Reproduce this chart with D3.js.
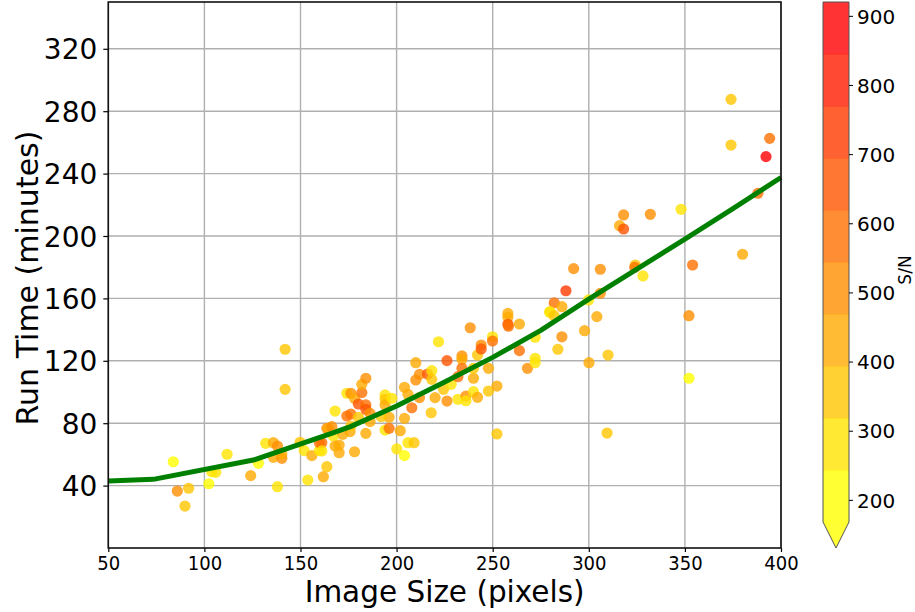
<!DOCTYPE html>
<html><head><meta charset="utf-8">
<script src="https://cdn.jsdelivr.net/npm/d3@7"></script>
<style>body{margin:0;background:#fff} text{font-family:"DejaVu Sans",sans-serif;fill:#000}</style>
</head><body><svg id="c" width="915" height="612"></svg>
<script>
// ---- data ----
const imageSize = [142.0,142.0,83.8,85.9,91.8,89.9,102.3,103.8,105.9,111.8,124.1,128.1,131.9,135.9,138.0,135.9,140.3,140.3,138.0,149.8,151.9,155.9,153.8,159.8,159.8,161.9,163.7,163.7,
161.1,161.1,164.5,166.3,167.1,168.0,168.0,170.1,170.1,172.0,175.8,176.2,178.1,174.1,176.2,180.1,174.1,176.2,178.1,180.1,181.9,181.9,184.0,184.0,184.0,186.2,186.2,184.0,
194.0,194.0,194.0,197.5,194.0,196.1,196.1,192.0,201.9,200.1,204.1,205.9,209.1,204.1,204.1,205.9,207.9,210.0,211.9,210.0,211.9,216.1,218.3,218.3,218.0,220.0,221.8,224.4,226.2,226.2,228.4,231.9,231.9,234.0,234.0,234.0,236.1,236.1,238.3,240.0,240.0,242.1,240.0,242.1,244.0,244.0,247.8,247.8,249.9,249.9,252.2,252.2,257.9,257.9,257.9,258.2,263.9,263.9,268.1,272.1,272.1,272.1,279.6,
374.0,374.0,394.1,392.2,388.0,380.0,354.0,348.0,332.0,318.1,316.0,318.1,324.2,323.9,328.2,306.0,292.1,288.1,282.0,286.0,279.9,282.0,299.9,306.0,304.2,297.8,286.0,283.9,310.0,300.1,352.1,352.1,309.5];
const runTime = [127.4,101.7,55.3,36.5,38.3,26.9,41.2,48.9,48.5,60.1,46.4,54.3,67.1,67.5,65.4,58.1,57.5,60.3,39.3,67.8,62.4,59.2,43.6,62.4,67.5,45.7,52.1,76.7,
67.5,62.2,76.7,77.8,71.8,87.8,65.4,66.0,61.1,72.9,74.6,78.2,61.7,84.6,85.9,83.8,99.2,99.2,96.0,92.3,99.6,104.9,108.8,91.7,88.9,86.3,81.0,73.5,
98.1,95.3,91.7,96.0,75.6,76.7,83.8,84.2,75.2,63.5,59.2,67.5,67.5,83.1,103.0,98.5,89.9,118.8,111.3,107.7,96.4,111.5,113.7,108.1,86.7,96.4,132.2,101.7,94.2,120.1,104.9,95.3,109.8,123.1,121.0,115.2,97.4,94.4,141.2,108.8,100.2,96.6,115.2,123.7,130.1,127.6,115.2,100.6,135.4,132.7,103.8,73.1,150.4,147.9,143.4,142.2,143.6,126.5,115.2,121.6,118.8,135.1,151.1,
287.6,258.3,262.6,250.9,227.4,188.3,181.4,217.1,213.9,213.5,206.6,204.5,181.4,179.9,174.4,178.7,179.1,164.9,157.2,154.7,151.5,148.9,159.0,163.3,148.3,139.3,135.4,127.4,123.7,118.8,148.9,108.8,73.7];
const snr = [350,350,200,500,350,380,220,250,260,280,450,230,300,400,520,420,480,400,300,350,300,450,280,250,550,400,380,500,
600,250,400,500,270,300,450,450,400,450,420,380,400,550,600,350,280,480,450,620,550,420,470,550,620,500,400,450,
300,350,400,250,300,550,450,380,400,300,220,300,330,450,450,400,550,420,480,480,500,650,300,350,320,450,300,350,480,650,280,300,550,480,450,600,500,300,480,450,270,450,350,380,500,650,400,320,300,550,450,330,420,400,650,600,400,550,500,300,300,250,280,
350,350,550,900,550,450,580,300,520,480,400,620,320,600,250,520,520,700,600,450,300,350,280,520,400,450,520,350,350,450,520,230,350];
const fitX = [50, 73.4, 125.5, 165, 176, 200, 225, 250, 275, 300, 325, 350, 375, 400];
const fitY = [42.9, 44.0, 56.4, 73.0, 77.8, 91.0, 106.4, 122.2, 139.5, 159.5, 178.8, 198.0, 217.5, 237.5];
const xTicks = [50,100,150,200,250,300,350,400];
const yTicks = [40,80,120,160,200,240,280,320];
const cbTicks = [200,300,400,500,600,700,800,900];
const cbMin = 168, cbMax = 920, cbBins = 10;

// ---- layout ----
const svg = d3.select("#c");
const L = 108.3, R = 781, T = 2, B = 548;
const x = d3.scaleLinear().domain([50,400]).range([L,R]);
const y = d3.scaleLinear().domain([0,350]).range([B,T]);
const levels = d3.range(cbBins+1).map(i => cbMin + i*(cbMax-cbMin)/cbBins);
const binColors = d3.range(cbBins).map(i => { const t = i/(cbBins-1); return d3.rgb(255, Math.round(255*(1-t)), 0).formatHex(); });
const color = d3.scaleThreshold().domain(levels.slice(1,-1)).range(binColors);

// grid
const g = svg.append("g");
g.selectAll(".gx").data(xTicks).join("line").attr("x1",d=>x(d)).attr("x2",d=>x(d)).attr("y1",T).attr("y2",B)
 .attr("stroke","#b0b0b0").attr("stroke-width",1.4);
g.selectAll(".gy").data(yTicks).join("line").attr("y1",d=>y(d)).attr("y2",d=>y(d)).attr("x1",L).attr("x2",R)
 .attr("stroke","#b0b0b0").attr("stroke-width",1.4);

// points
svg.append("g").selectAll("circle").data(imageSize.map((v,i)=>({x:v,y:runTime[i],s:snr[i]})))
 .join("circle").attr("cx",d=>x(d.x)).attr("cy",d=>y(d.y)).attr("r",5.6)
 .attr("fill",d=>color(d.s)).attr("fill-opacity",0.8);

// fit line
svg.append("path").datum(fitX.map((v,i)=>[v,fitY[i]]))
 .attr("d", d3.line().x(d=>x(d[0])).y(d=>y(d[1])))
 .attr("fill","none").attr("stroke","#008000").attr("stroke-width",5).attr("stroke-linejoin","round");

// axes
const ax = svg.append("g").attr("transform",`translate(0,${B})`)
 .call(d3.axisBottom(x).tickValues(xTicks).tickSize(4).tickPadding(4).tickFormat(d3.format("d")));
ax.selectAll(".tick text").attr("font-size",20).style("font-family","DejaVu Sans").attr("transform","scale(0.9,1)");
const ay = svg.append("g").attr("transform",`translate(${L},0)`)
 .call(d3.axisLeft(y).tickValues(yTicks).tickSize(5).tickPadding(6).tickFormat(d3.format("d")));
ay.selectAll("text").attr("font-size",28).attr("dy","0.36em").style("font-family","DejaVu Sans");
[ax,ay].forEach(a=>{a.select(".domain").remove(); a.selectAll("line").attr("stroke","#000").attr("stroke-width",1.2);});

// spines
svg.append("rect").attr("x",L).attr("y",T).attr("width",R-L).attr("height",B-T)
 .attr("fill","none").attr("stroke","#111").attr("stroke-width",1.6);

// axis titles
svg.append("text").attr("x",(L+R)/2).attr("y",602).attr("text-anchor","middle").attr("font-size",29.5).text("Image Size (pixels)");
svg.append("text").attr("transform",`translate(38,${(T+B)/2+3}) rotate(-90)`).attr("text-anchor","middle").attr("font-size",30).text("Run Time (minutes)");

// colorbar
const cbL = 823, cbW = 26, cbT = 2, cbB = 522, triB = 548;
const cy = d3.scaleLinear().domain([cbMin,cbMax]).range([cbB,cbT]);
const cb = svg.append("g");
cb.selectAll("rect").data(d3.range(cbBins)).join("rect")
 .attr("x",cbL).attr("width",cbW).attr("y",i=>cy(levels[i+1])).attr("height",i=>cy(levels[i])-cy(levels[i+1])+0.3)
 .attr("fill",i=>binColors[i]).attr("fill-opacity",0.8);
cb.append("path").attr("d",`M${cbL},${cbB}L${cbL+cbW},${cbB}L${cbL+cbW/2},${triB}Z`)
 .attr("fill",binColors[0]).attr("fill-opacity",0.8);
cb.append("path").attr("d",`M${cbL},${cbT}L${cbL+cbW},${cbT}L${cbL+cbW},${cbB}L${cbL+cbW/2},${triB}L${cbL},${cbB}Z`)
 .attr("fill","none").attr("stroke","#555").attr("stroke-width",1);
const ac = svg.append("g").attr("transform",`translate(${cbL+cbW},0)`)
 .call(d3.axisRight(cy).tickValues(cbTicks).tickSize(4).tickPadding(4).tickFormat(d3.format("d")));
ac.select(".domain").remove();
ac.selectAll("line").attr("stroke","#000");
ac.selectAll("text").attr("font-size",20).attr("dy","0.36em").style("font-family","DejaVu Sans");
svg.append("text").attr("transform",`translate(911,270) rotate(-90)`).attr("text-anchor","middle").attr("font-size",17).text("S/N");
</script></body></html>
